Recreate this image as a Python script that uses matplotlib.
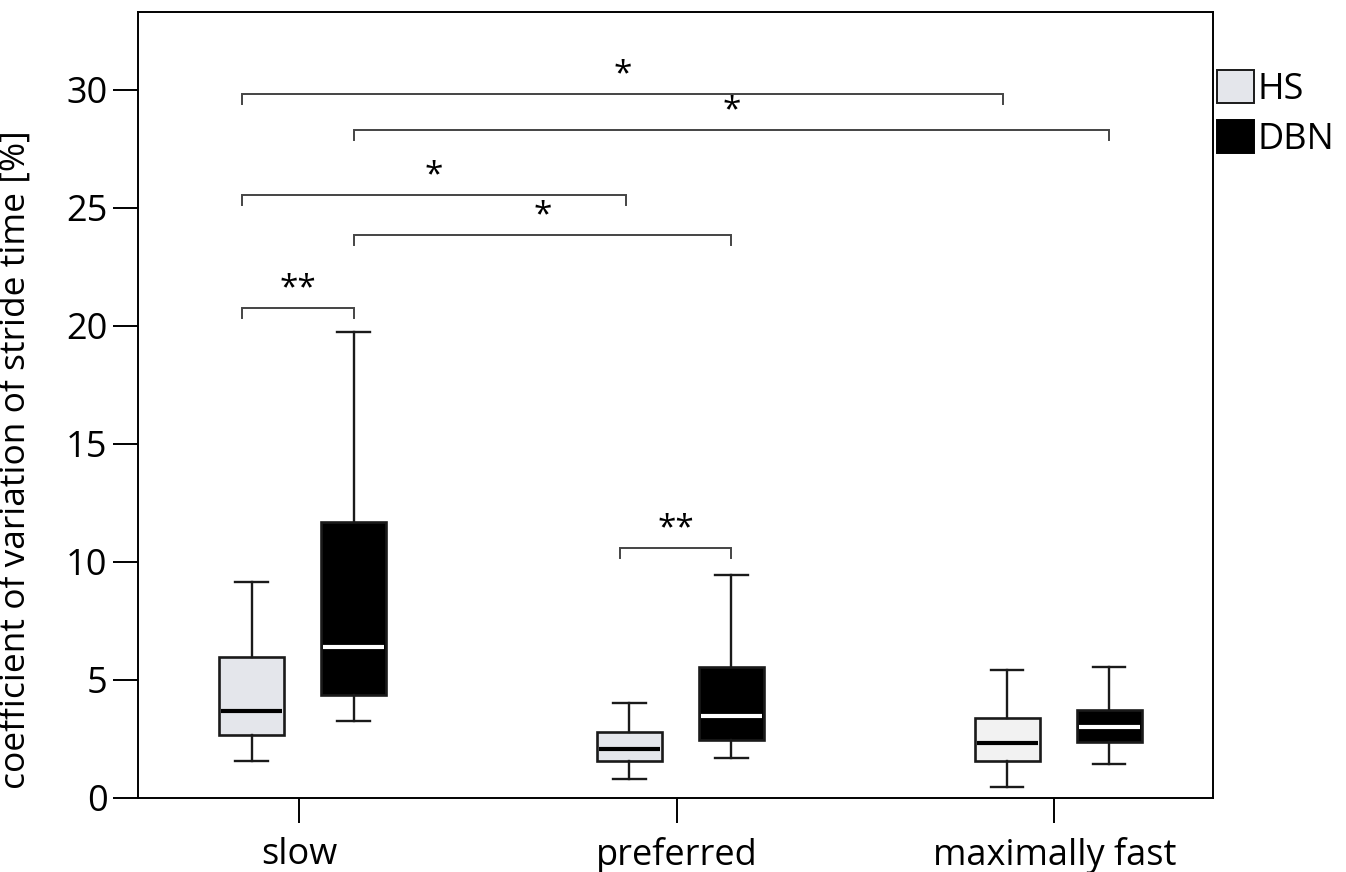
import matplotlib
matplotlib.use("Agg")
import matplotlib.pyplot as plt
from matplotlib.patches import Patch

plt.rcParams['font.family'] = ['Open Sans', 'DejaVu Sans']

categories = ["slow", "preferred", "maximally fast"]
series = ["HS", "DBN"]

# five-number summaries per speed: [whislo, q1, med, q3, whishi]
hs_stats = [
    [1.55, 2.68, 3.70, 5.97, 9.17],
    [0.79, 1.55, 2.09, 2.78, 4.01],
    [0.47, 1.58, 2.34, 3.39, 5.41],
]
dbn_stats = [
    [3.25, 4.35, 6.41, 11.69, 19.75],
    [1.68, 2.44, 3.49, 5.54, 9.45],
    [1.44, 2.36, 3.02, 3.73, 5.55],
]
hs_fills = ["#e4e6eb", "#e4e6eb", "#f2f2f2"]
dbn_fill = "#000000"

# significance brackets: (group_a, series_a, group_b, series_b, height, label)
sig_pairs = [
    (0, 0, 2, 0, 29.83, "*"),
    (0, 1, 2, 1, 28.30, "*"),
    (0, 0, 1, 0, 25.54, "*"),
    (0, 1, 1, 1, 23.84, "*"),
    (0, 0, 0, 1, 20.75, "**"),
    (1, 0, 1, 1, 10.58, "**"),
]

fig = plt.figure(figsize=(13.46, 8.72), dpi=100)
ax = fig.add_axes([0.1025, 0.0849, 0.9012 - 0.1025, 0.9862 - 0.0849])

offsets = [-0.125, 0.145]
box_w = 0.172

def to_dict(s):
    return dict(whislo=s[0], q1=s[1], med=s[2], q3=s[3], whishi=s[4], fliers=[])

for si, (stats, med_col) in enumerate([(hs_stats, "black"), (dbn_stats, "white")]):
    pos = [g + offsets[si] for g in range(len(categories))]
    bp = ax.bxp([to_dict(s) for s in stats], positions=pos, widths=box_w,
                patch_artist=True, showfliers=False,
                boxprops=dict(linewidth=1.9, edgecolor="#1a1a1a"),
                whiskerprops=dict(linewidth=1.7, color="#1a1a1a"),
                capprops=dict(linewidth=1.7, color="#1a1a1a"),
                medianprops=dict(linewidth=3.0, color=med_col),
                capwidths=box_w * 0.5, manage_ticks=False)
    for i, b in enumerate(bp['boxes']):
        b.set_facecolor(hs_fills[i] if si == 0 else dbn_fill)
    for m in bp['medians']:
        xd = m.get_xdata()
        m.set_xdata([xd[0] + 0.005, xd[1] - 0.005])

drop = 0.42
for ga, sa, gb, sb, h, lab in sig_pairs:
    xa = ga + offsets[sa] - 0.025 * (sa == 0)
    xb = gb + offsets[sb] - 0.01 * (sb == 0)
    ax.plot([xa, xa, xb, xb], [h - drop, h, h, h - drop], color="#444444", lw=1.4,
            solid_joinstyle="miter", clip_on=False)
    ax.text((xa + xb) / 2, h + 0.12, lab, ha="center", va="bottom", fontsize=24)

ax.set_xlim(-0.426, 2.42)
ax.set_ylim(0, 33.3)
ax.set_yticks([0, 5, 10, 15, 20, 25, 30])
ax.set_xticks(range(len(categories)))
ax.set_xticklabels(categories)
ax.tick_params(axis='both', direction='out', length=18, width=1.4, labelsize=26, pad=4)
ax.tick_params(axis='x', pad=10)
for sp in ax.spines.values():
    sp.set_linewidth(1.4)

ax.set_ylabel("coefficient of variation of stride time [%]", fontsize=25.5)
ax.yaxis.set_label_coords(-0.098, 0.43)

handles = [Patch(facecolor="#e4e6eb", edgecolor="#1a1a1a", linewidth=1.4),
           Patch(facecolor="black", edgecolor="black", linewidth=1.4)]
ax.legend(handles, series, loc="upper left", bbox_to_anchor=(1.004, 0.926),
          frameon=False, fontsize=26, handlelength=1.02, handleheight=1.02,
          handletextpad=0.1, labelspacing=0.33, borderaxespad=0.0, borderpad=0.0)

fig.savefig("out.png", dpi=100)
